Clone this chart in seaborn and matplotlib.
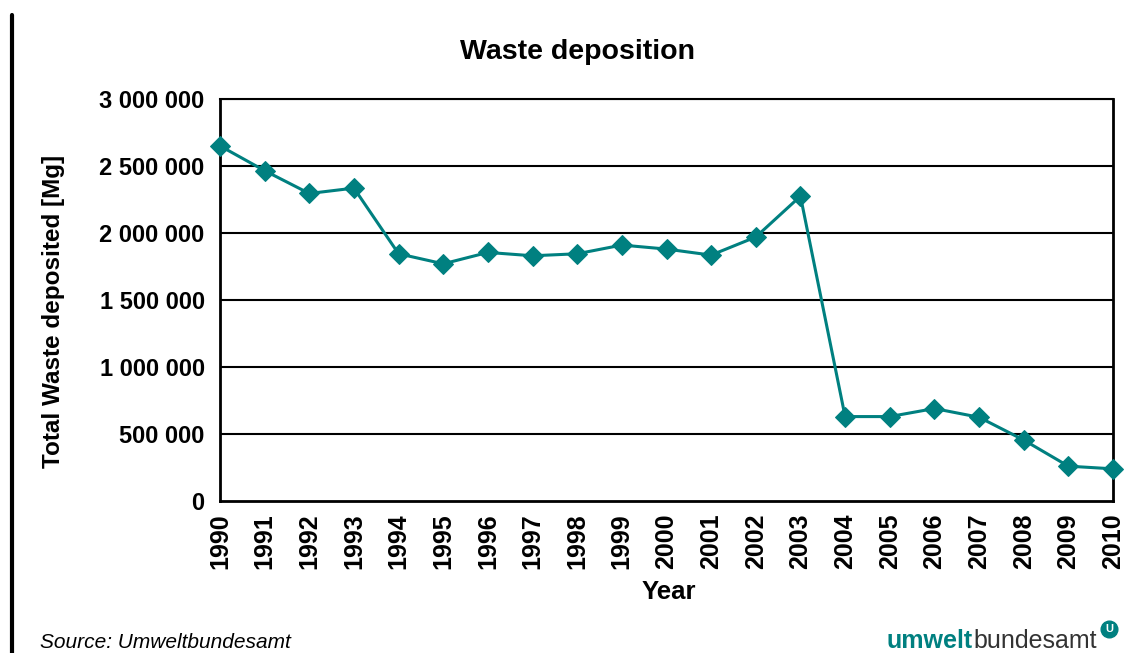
import matplotlib
matplotlib.use("Agg")
import matplotlib.pyplot as plt
import matplotlib.ticker as mticker
from matplotlib.lines import Line2D
import seaborn as sns
import pandas as pd

years = list(range(1990, 2011))
waste_mg = [2650000, 2465000, 2295000, 2335000, 1845000, 1770000, 1855000,
            1830000, 1845000, 1910000, 1880000, 1835000, 1970000, 2275000,
            630000, 630000, 690000, 625000, 455000, 260000, 240000]
y_ticks = [0, 500000, 1000000, 1500000, 2000000, 2500000, 3000000]

df = pd.DataFrame({"Year": years, "Waste": waste_mg})

sns.set_style("white")
plt.rcParams['font.family'] = ['Liberation Sans', 'DejaVu Sans']
plt.rcParams['text.color'] = 'black'
plt.rcParams['axes.labelcolor'] = 'black'
plt.rcParams['xtick.color'] = 'black'
plt.rcParams['ytick.color'] = 'black'

W, H = 1131, 653
fig = plt.figure(figsize=(W / 100, H / 100), dpi=100)
ax = fig.add_axes([220 / W, 1 - 501 / H, 893 / W, 402 / H])

teal = "#008080"
sns.lineplot(data=df, x="Year", y="Waste", ax=ax, color=teal, linewidth=2.2,
             marker="D", markersize=10, markeredgecolor=teal, clip_on=False, zorder=5)

ax.set_xlim(1990, 2010)
ax.set_ylim(0, 3000000)
ax.set_yticks(y_ticks)
ax.set_xticks(years)
ax.yaxis.set_major_formatter(mticker.FuncFormatter(lambda v, p: f"{int(v):,}".replace(",", " ")))
for yv in y_ticks[1:]:
    ax.axhline(yv, color="black", linewidth=1.5, zorder=1)

for s in ax.spines.values():
    s.set_color("black")
    s.set_linewidth(2)
ax.spines['top'].set_linewidth(1.5)

ax.tick_params(axis='both', which='major', direction='out', length=6, width=2,
               color='black', labelcolor='black')
ax.tick_params(axis='x', labelrotation=90, pad=3, labelsize=18)
ax.tick_params(axis='y', pad=5, labelsize=17)
for lab in ax.get_xticklabels() + ax.get_yticklabels():
    lab.set_fontweight('bold')

ax.set_xlabel("Year", fontsize=18.5, fontweight='bold')
ax.xaxis.set_label_coords(0.503, (501 - 580) / 402)
ax.set_ylabel("Total Waste deposited [Mg]", fontsize=17.5, fontweight='bold')
ax.yaxis.set_label_coords((65 - 220) / 893, (501 - 311) / 402)

fig.text(578 / W, 1 - 52 / H, "Waste deposition", fontsize=20.5, fontweight='bold',
         ha='center', va='center')

# decorative vertical line at left
fig.add_artist(Line2D([12 / W, 12 / W], [0, 1 - 15 / H], color="black", linewidth=3))

fig.text(40 / W, 1 - 643 / H, "Source: Umweltbundesamt", fontsize=15,
         style='italic', ha='left', va='center')

t1 = fig.text(887 / W, 1 - 648 / H, "umwelt", fontsize=18, fontweight='bold',
              color=teal, ha='left', va='baseline')
fig.canvas.draw()
bb = t1.get_window_extent()
fig.text(bb.x1 / fig.bbox.width, 1 - 648 / H, "bundesamt", fontsize=18,
         color="#333333", ha='left', va='baseline')
fig.add_artist(Line2D([1109 / W], [1 - 629 / H], marker='o', markersize=12,
                      color=teal, markeredgecolor=teal, linestyle='none'))
fig.text(1109 / W, 1 - 629 / H, "U", fontsize=8, fontweight='bold', color='white',
         ha='center', va='center')

fig.savefig("out.png", dpi=100)
